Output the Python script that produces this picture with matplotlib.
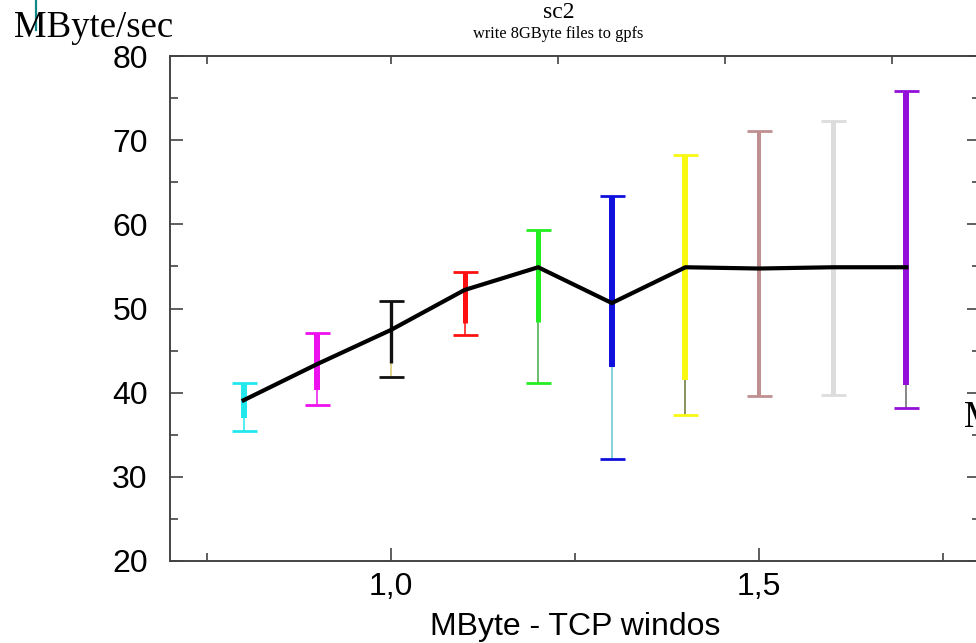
import matplotlib
matplotlib.use("Agg")
import matplotlib.pyplot as plt
from matplotlib.lines import Line2D
import numpy as np

# ---- data ----
window_mb = [0.8, 0.9, 1.0, 1.1, 1.2, 1.3, 1.4, 1.5, 1.6, 1.7]
mean_rate = [39.1, 43.4, 47.45, 52.2, 54.9, 50.65, 54.9, 54.75, 54.9, 54.9]
max_rate = [41.15, 47.1, 50.9, 54.3, 59.3, 63.4, 68.2, 71.1, 72.3, 75.85]
min_rate = [35.45, 38.5, 41.9, 46.85, 41.15, 32.1, 37.35, 39.6, 39.7, 38.2]
dense_top = [41.15, 47.1, 50.9, 54.3, 59.3, 63.4, 68.2, 71.1, 72.3, 75.85]
dense_bottom = [37.0, 40.3, 43.5, 48.3, 48.4, 43.05, 41.5, 39.6, 39.7, 40.9]
bar_colors = ['#22e8ec', '#ee10ee', '#111111', '#ff1010', '#22ee22',
              '#1010dd', '#f8f810', '#c09090', '#dcdcdc', '#9410d8']
thin_colors = ['#22e8ec', '#ee10ee', '#d8c870', '#ff1010', '#44aa44',
               '#60c8d0', '#667733', '#c09090', '#cccccc', '#666666']
dense_width = [4.3, 4.3, 2.4, 3.6, 3.6, 4.3, 4.3, 2.9, 3.6, 4.3]

x_major = [1.0, 1.5]
x_major_labels = ['1,0', '1,5']
x_minor = [0.75, 1.25, 1.75]
y_ticks = [20, 30, 40, 50, 60, 70, 80]
top_ticks = [0.75, 1.0, 1.227, 1.454, 1.681]

title = 'sc2'
subtitle = 'write 8GByte files to gpfs'
ylabel = 'MByte/sec'
xlabel = 'MByte - TCP windos'

W, H = 976, 643
fig = plt.figure(figsize=(W / 100, H / 100), dpi=100)
ax = fig.add_axes([170 / W, 1 - 561 / H, 810 / W, 505 / H])
ax.set_xlim(0.7, 1.8)
ax.set_ylim(20, 80)

# error bars: thin full range with caps, thick dense part
for i, x in enumerate(window_mb):
    ax.vlines(x, min_rate[i], max_rate[i], color=thin_colors[i], lw=1.1, zorder=2)
    ax.vlines(x, dense_bottom[i], dense_top[i], color=bar_colors[i],
              lw=dense_width[i], zorder=3)
    ax.errorbar([x], [mean_rate[i]],
                yerr=[[mean_rate[i] - min_rate[i]], [max_rate[i] - mean_rate[i]]],
                fmt='none', ecolor=bar_colors[i], elinewidth=0, capsize=9,
                capthick=2.0, zorder=3)

ax.plot(window_mb, mean_rate, color='black', lw=3.0, zorder=5,
        solid_joinstyle='miter')

# axes styling
for side in ['left', 'bottom', 'top']:
    ax.spines[side].set_color('#444444')
    ax.spines[side].set_linewidth(1.4)
ax.spines['right'].set_visible(False)

ax.set_xticks(x_major)
ax.set_xticklabels(x_major_labels, family='Liberation Sans', fontsize=23)
ax.set_xticks(x_minor, minor=True)
ax.set_yticks(y_ticks)
ax.set_yticklabels([str(v) for v in y_ticks], family='Liberation Sans', fontsize=23)
ax.set_yticks(np.arange(25, 80, 10), minor=True)
ax.tick_params(axis='x', which='major', direction='in', length=9.5, width=1.1,
               pad=8, top=False, color='#333333')
ax.tick_params(axis='x', which='minor', direction='in', length=5.5, width=1.1,
               top=False, color='#333333')
ax.tick_params(axis='y', which='major', direction='in', length=9.5, width=1.1,
               pad=16, right=True, color='#333333')
ax.tick_params(axis='y', which='minor', direction='in', length=6, width=1.1,
               right=True, color='#333333')

# top axis ticks (secondary scale)
top = ax.secondary_xaxis('top')
top.set_xticks(top_ticks)
top.set_xticklabels([])
top.tick_params(direction='in', length=6, width=1.1, color='#333333')
top.spines['top'].set_visible(False)

ax.set_xlabel(xlabel, family='Liberation Sans', fontsize=23, labelpad=7)

fig.text(14 / W, 1 - 37 / H, ylabel, family='Liberation Serif', fontsize=26.5,
         ha='left', va='baseline')
fig.text(559 / W, 1 - 18 / H, title, family='Liberation Serif', fontsize=17,
         ha='center', va='baseline')
fig.text(558 / W, 1 - 38 / H, subtitle, family='Liberation Serif', fontsize=11.8,
         ha='center', va='baseline')
fig.text(964 / W, 1 - 427 / H, 'M', family='Liberation Serif', fontsize=26.5,
         ha='left', va='baseline')

fig.add_artist(Line2D([36 / W, 36 / W], [1.0, 1 - 30 / H], color='#108888', lw=1.6,
                      transform=fig.transFigure))

fig.savefig('out.png', dpi=100, facecolor='white')
